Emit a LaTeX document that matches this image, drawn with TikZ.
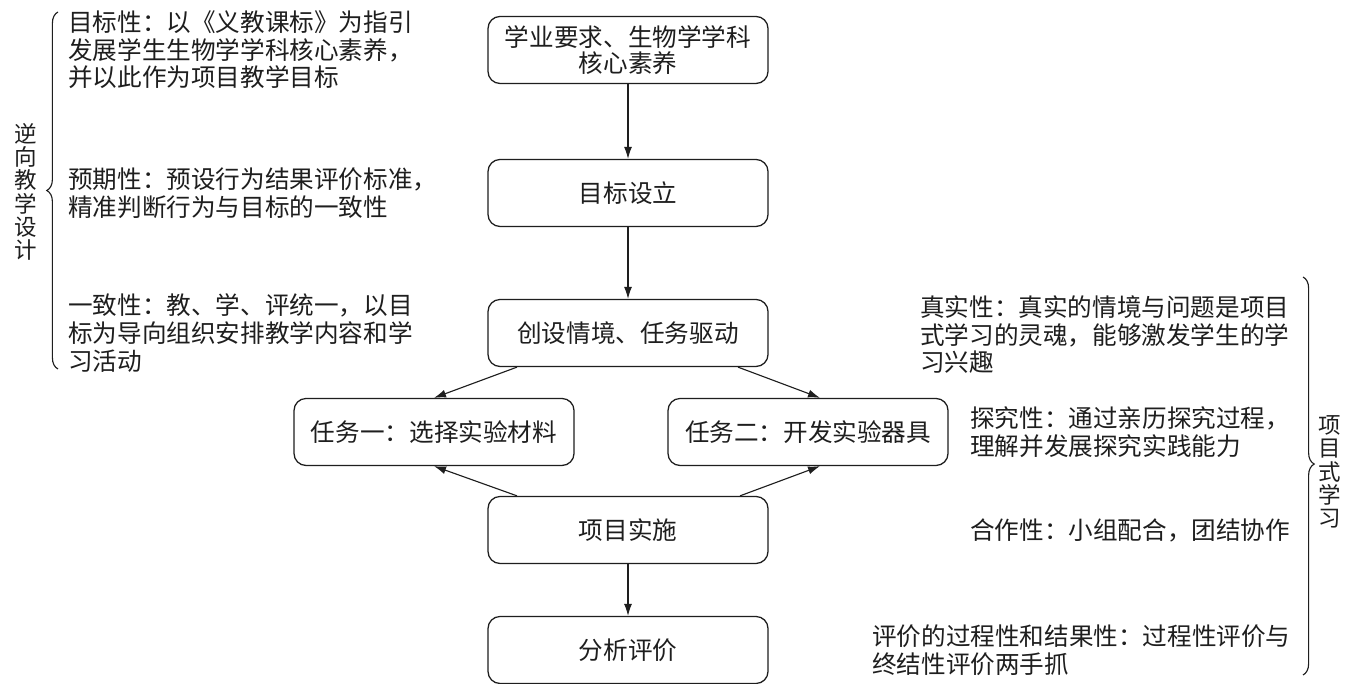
\documentclass[tikz,border=0pt]{standalone}
\usepackage{fontspec}
\setmainfont{Noto Sans CJK SC}
\usetikzlibrary{arrows.meta,calc,decorations.pathreplacing}
\definecolor{Ink}{HTML}{1E1E1E}

\begin{document}
\begin{tikzpicture}[every node/.style={text=Ink},box/.style={draw=Ink,line width=0.9pt,rounded corners=0.3cm,minimum width=7cm,minimum height=1.675cm,align=center,font=\fontsize{17.5pt}{18pt}\selectfont},desc/.style={anchor=west,inner sep=0pt,align=left,font=\fontsize{17.5pt}{19.6pt}\selectfont},side/.style={inner sep=0pt,align=center,font=\fontsize{16pt}{16.6pt}\selectfont},arrow/.style={-{Latex[length=3mm,width=2mm]},line width=0.8pt,draw=Ink},brace/.style={decorate,decoration={brace,amplitude=0.28cm},line width=0.8pt,draw=Ink}]
\useasboundingbox (0,0) rectangle (33.9,17.1);
\fill[white] (0,0) rectangle (33.9,17.1);

\node[box] (need) at (15.7,15.85) {学业要求、生物学学科\\核心素养};
\node[box] (goal) at (15.7,12.275) {目标设立};
\node[box] (scene) at (15.7,8.775) {创设情境、任务驱动};
\node[box] (task1) at (10.85,6.3) {任务一：选择实验材料};
\node[box] (task2) at (20.2,6.3) {任务二：开发实验器具};
\node[box] (impl) at (15.7,3.85) {项目实施};
\node[box] (eval) at (15.7,0.85) {分析评价};

\draw[arrow] (need) -- (goal); \draw[arrow] (goal) -- (scene); \draw[arrow] (impl) -- (eval);
\draw[arrow] ($(scene.south)+(-2.775,0)$) -- (task1.north); \draw[arrow] ($(scene.south)+(2.75,0)$) -- ($(task2.north)+(0.3,0)$);
\draw[arrow] ($(impl.north)+(-2.775,0)$) -- (task1.south); \draw[arrow] ($(impl.north)+(2.8,0)$) -- ($(task2.south)+(0.3,0)$);

\node[desc] (aim) at (1.7,0 |- need) {目标性：以《义教课标》为指引\\发展学生生物学学科核心素养，\\并以此作为项目教学目标};
\node[desc] (expect) at (1.7,0 |- goal) {预期性：预设行为结果评价标准，\\精准判断行为与目标的一致性};
\node[desc] (consist) at (1.7,0 |- scene) {一致性：教、学、评统一，以目\\标为导向组织安排教学内容和学\\习活动};
\draw[brace] (1.45,7.875) -- (1.45,16.8);
\node[side] (backward) at (0.65,12.3) {逆\\向\\教\\学\\设\\计};

\node[desc] (real) at (23.0,8.725) {真实性：真实的情境与问题是项目\\式学习的灵魂，能够激发学生的学\\习兴趣};
\node[desc] (inquiry) at (24.25,0 |- task2) {探究性：通过亲历探究过程，\\理解并发展探究实践能力};
\node[desc] (coop) at (24.25,0 |- impl) {合作性：小组配合，团结协作};
\node[desc] (process) at (21.8,0 |- eval) {评价的过程性和结果性：过程性评价与\\终结性评价两手抓};
\draw[brace,decoration={aspect=0.47}] (32.575,10.175) -- (32.575,0.225);
\node[side] (pbl) at (33.25,5.3) {项\\目\\式\\学\\习};

\end{tikzpicture}
\end{document}
